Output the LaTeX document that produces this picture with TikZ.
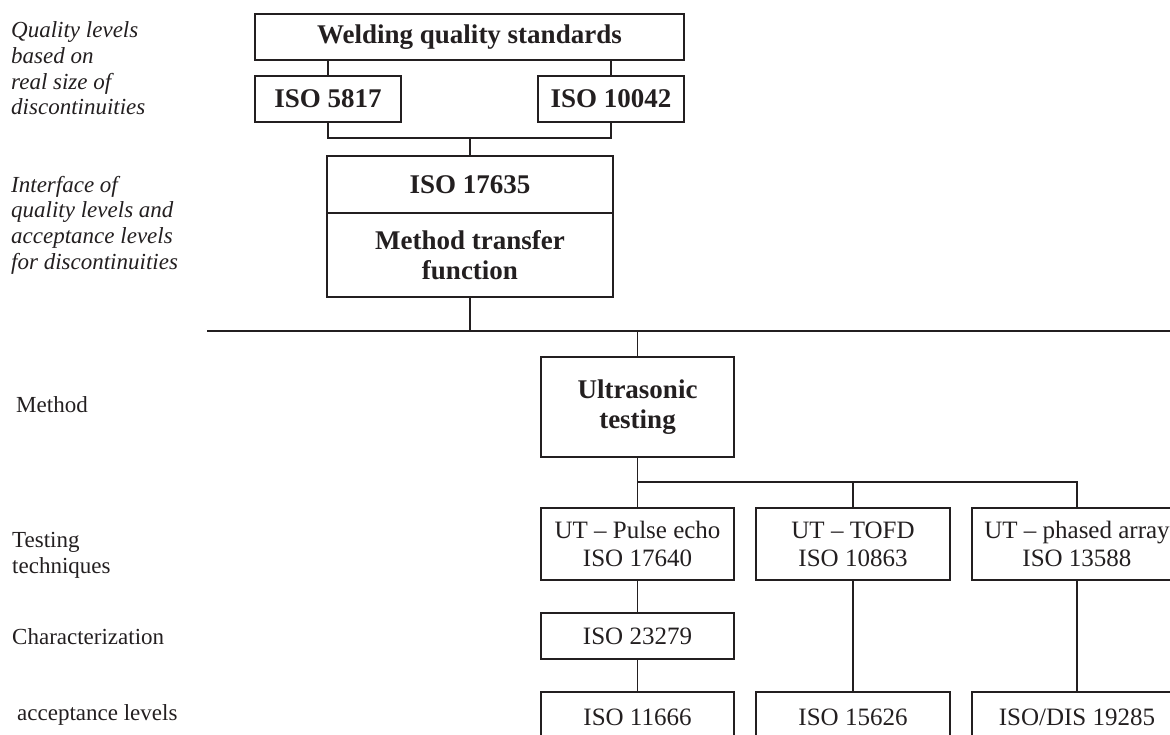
\documentclass[tikz,border=0pt]{standalone}
\usepackage{fontspec}
\setmainfont{Liberation Serif}
\definecolor{ink}{HTML}{231F20}
\begin{document}
\begin{tikzpicture}[x=1pt,y=-1pt,
  box/.style={draw=ink, line width=1.8pt, inner sep=0pt, align=center, text=ink},
  conn/.style={draw=ink, line width=1.2pt},
  bigline/.style={draw=ink, line width=1.7pt},
  bt/.style={font=\fontsize{27}{30}\selectfont\bfseries},
  nt/.style={font=\fontsize{25}{28}\selectfont},
  lab/.style={anchor=west, inner sep=0pt, align=left, text=ink, font=\fontsize{23}{25.7}\selectfont},
  ilab/.style={lab, font=\fontsize{23}{25.7}\selectfont\itshape}]
\useasboundingbox (0,0) rectangle (1170,734);
\clip (0,0) rectangle (1170,734);
% left labels
\node[ilab] (l1) at (11,68.5) {Quality levels\\based on\\real size of\\discontinuities};
\node[ilab] (l2) at (11,225) {Interface of\\quality levels and\\acceptance levels\\for discontinuities};
\node[lab] (l3) at (16,405) {Method};
\node[lab] (l4) at (12,555.5) {Testing\\techniques};
\node[lab] (l5) at (12,637) {Characterization};
\node[lab] (l6) at (17,715) {acceptance levels};
% top
\node[box, bt, minimum width=429pt, minimum height=46pt] (wqs) at (469.5,37) {Welding quality standards};
\node[box, bt, minimum width=146pt, minimum height=46pt] (iso5817) at (328,99) {ISO 5817};
\node[box, bt, minimum width=146pt, minimum height=46pt] (iso10042) at (611,99) {ISO 10042};
\node[box, bt, minimum width=286pt, minimum height=57pt] (iso17635) at (470,184.5) {ISO 17635};
\node[box, bt, minimum width=286pt, minimum height=84pt] (mtf) at (470,255) {Method transfer\\function};
% method
\node[box, bt, minimum width=193pt, minimum height=100pt] (ut) at (637.5,407) {Ultrasonic\\testing};
\node[box, nt, minimum width=193pt, minimum height=72pt] (pe) at (637.5,544) {UT \textendash{} Pulse echo\\ISO 17640};
\node[box, nt, minimum width=194pt, minimum height=72pt] (tofd) at (853,544) {UT \textendash{} TOFD\\ISO 10863};
\node[box, nt, minimum width=210pt, minimum height=72pt] (pa) at (1077,544) {UT \textendash{} phased array\\ISO 13588};
\node[box, nt, minimum width=193pt, minimum height=46pt] (iso23279) at (637.5,636) {ISO 23279};
\node[box, nt, minimum width=193pt, minimum height=50pt] (iso11666) at (637.5,717) {ISO 11666};
\node[box, nt, minimum width=194pt, minimum height=50pt] (iso15626) at (853,717) {ISO 15626};
\node[box, nt, minimum width=210pt, minimum height=50pt] (iso19285) at (1077,717) {ISO/DIS 19285};
% connectors
\coordinate (bar1) at (470,138);
\coordinate (hl) at (207,331);
\coordinate (hr) at (1180,331);
\coordinate (bar2) at (638,482);
\draw[conn] (iso5817.north |- wqs.south) -- (iso5817.north);
\draw[conn] (iso10042.north |- wqs.south) -- (iso10042.north);
\draw[conn] (iso5817.south) |- (bar1) -| (iso10042.south);
\draw[conn] (bar1) -- (iso17635.north);
\draw[bigline] (hl) -- (hr);
\draw[conn] (mtf.south) -- (mtf.south |- hl);
\draw[conn] (ut.north |- hl) -- (ut.north);
\draw[conn] (ut.south) -- (pe.north);
\draw[conn] (bar2) -| (tofd.north);
\draw[conn] (bar2) -| (pa.north);
\draw[conn] (pe.south) -- (iso23279.north);
\draw[conn] (iso23279.south) -- (iso11666.north);
\draw[conn] (tofd.south) -- (iso15626.north);
\draw[conn] (pa.south) -- (iso19285.north);
\end{tikzpicture}
\end{document}
